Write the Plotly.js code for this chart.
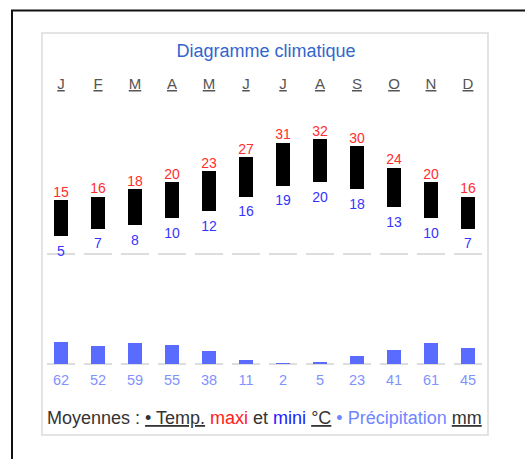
<!DOCTYPE html>
<html>
<head>
<meta charset="utf-8">
<script src="https://cdn.plot.ly/plotly-3.0.1.min.js"></script>
<style>html,body{margin:0;padding:0;background:#fff;}#chart{width:525px;height:459px;}</style>
</head>
<body>
<div id="chart"></div>
<script>
// ---- data ----
var months = ["J","F","M","A","M","J","J","A","S","O","N","D"];
var tempMax = [15,16,18,20,23,27,31,32,30,24,20,16];
var tempMin = [5,7,8,10,12,16,19,20,18,13,10,7];
var precip  = [62,52,59,55,38,11,2,5,23,41,61,45];

var W = 525, H = 459;
function py(p){ return 1 - p / H; }
function px(p){ return p / W; }

var idx = months.map(function(_, i){ return i; });
var FONT = "Liberation Sans, Arial, sans-serif";

var traces = [
  { // temperature range bars
    type: "bar", x: idx, base: tempMin,
    y: tempMax.map(function(v, i){ return v - tempMin[i]; }),
    width: 0.4, marker: {color: "#000", line: {width: 0}},
    xaxis: "x", yaxis: "y", hoverinfo: "skip"
  },
  { // max labels
    type: "scatter", mode: "text", x: idx, y: tempMax,
    text: tempMax.map(String), textposition: "top center",
    textfont: {family: FONT, size: 14, color: "#ff2d2d"},
    cliponaxis: false, xaxis: "x", yaxis: "y", hoverinfo: "skip"
  },
  { // min labels
    type: "scatter", mode: "markers+text", x: idx, y: tempMin,
    text: tempMin.map(String), textposition: "bottom center",
    marker: {size: 13, color: "rgba(0,0,0,0)"},
    textfont: {family: FONT, size: 14, color: "#3535ff"},
    cliponaxis: false, xaxis: "x", yaxis: "y", hoverinfo: "skip"
  },
  { // precipitation bars
    type: "bar", x: idx, y: precip,
    width: 0.4, marker: {color: "#5a6cff", line: {width: 0}},
    xaxis: "x2", yaxis: "y2", hoverinfo: "skip"
  },
  { // precipitation labels
    type: "scatter", mode: "markers+text", x: idx, y: precip.map(function(){ return 0; }),
    text: precip.map(String), textposition: "bottom center",
    marker: {size: 15, color: "rgba(0,0,0,0)"},
    textfont: {family: FONT, size: 14.5, color: "#7f92ff"},
    cliponaxis: false, xaxis: "x2", yaxis: "y2", hoverinfo: "skip"
  }
];

var shapes = [
  { // outer frame
    type: "rect", xref: "paper", yref: "paper",
    x0: px(12), x1: px(540), y0: py(10.5), y1: -0.05,
    line: {color: "#111", width: 2}, fillcolor: "rgba(0,0,0,0)", layer: "below"
  },
  { // inner panel
    type: "rect", xref: "paper", yref: "paper",
    x0: px(42), x1: px(488), y0: py(33), y1: py(435),
    line: {color: "#dcdcdc", width: 1.5}, fillcolor: "rgba(0,0,0,0)", layer: "below"
  }
];
idx.forEach(function(i){
  shapes.push({type: "line", xref: "x", yref: "y", x0: i - 0.38, x1: i + 0.38, y0: 0, y1: 0,
               line: {color: "#dddddd", width: 2}, layer: "below"});
  shapes.push({type: "line", xref: "x2", yref: "y2", x0: i - 0.38, x1: i + 0.38, y0: 0, y1: 0,
               line: {color: "#dddddd", width: 2}, layer: "below"});
});

var tempPxPerDeg = 3.59, tempZero = 254, tTop = 95, tBot = 262;
var prPxPerMm = 0.35, prZero = 364, pTop = 300, pBot = 370;

var layout = {
  width: W, height: H,
  margin: {l: 0, r: 0, t: 0, b: 0, pad: 0},
  paper_bgcolor: "#fff", plot_bgcolor: "rgba(0,0,0,0)",
  showlegend: false, hovermode: false, bargap: 0,
  font: {family: FONT},
  title: {
    text: "Diagramme climatique", x: px(266), xanchor: "center",
    y: py(51), yanchor: "middle", xref: "paper", yref: "container",
    font: {family: FONT, size: 18, color: "#3366cc"}
  },
  xaxis: {
    domain: [px(42.5), px(486.5)], range: [-0.5, 11.5], anchor: "y", side: "top",
    tickmode: "array", tickvals: idx, ticktext: months.map(function(m){ return "<u>" + m + "</u>"; }),
    ticks: "", showgrid: false, zeroline: false, showline: false,
    tickfont: {family: FONT, size: 15, color: "#555"}, ticklabelstandoff: 2, fixedrange: true
  },
  yaxis: {
    domain: [py(tBot), py(tTop)],
    range: [-(tBot - tempZero) / tempPxPerDeg, (tempZero - tTop) / tempPxPerDeg],
    visible: false, fixedrange: true
  },
  xaxis2: {
    domain: [px(42.5), px(486.5)], range: [-0.5, 11.5], anchor: "y2",
    visible: false, fixedrange: true
  },
  yaxis2: {
    domain: [py(pBot), py(pTop)],
    range: [-(pBot - prZero) / prPxPerMm, (prZero - pTop) / prPxPerMm],
    visible: false, fixedrange: true
  },
  shapes: shapes,
  annotations: [{
    xref: "paper", yref: "paper", x: px(264.5), y: py(418), xanchor: "center", yanchor: "middle",
    showarrow: false,
    text: "Moyennes : <u>• Temp.</u> <span style='color:#ff2020'>maxi</span> et " +
          "<span style='color:#2020ff'>mini</span> <u>°C</u> " +
          "<span style='color:#6f86ff'>• Précipitation</span> <u>mm</u>",
    font: {family: FONT, size: 18, color: "#333"}
  }]
};

Plotly.newPlot("chart", traces, layout, {displayModeBar: false, staticPlot: true});
</script>
</body>
</html>
